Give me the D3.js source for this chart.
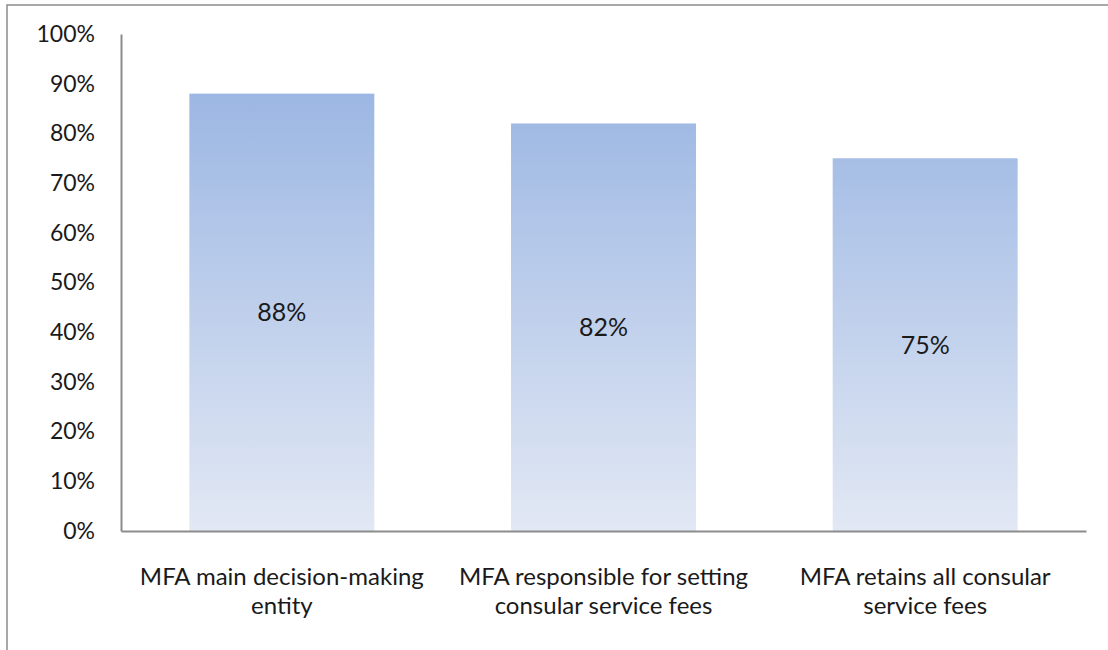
<!DOCTYPE html>
<html>
<head>
<meta charset="utf-8">
<script src="https://cdn.jsdelivr.net/npm/d3@7/dist/d3.min.js"></script>
<style>
  html, body { margin: 0; padding: 0; background: #fff; }
  svg { display: block; }
  text { font-family: Lato, "Open Sans", sans-serif; fill: #1a1a1a; }
</style>
</head>
<body>
<svg id="chart" width="1108" height="650"></svg>
<script>
// Category labels (each entry is split into its two display lines)
const categories = [
  ["MFA main decision-making", "entity"],
  ["MFA responsible for setting", "consular service fees"],
  ["MFA retains all consular", "service fees"]
];
const values = [0.88, 0.82, 0.75];
const yTicks = [0, 0.1, 0.2, 0.3, 0.4, 0.5, 0.6, 0.7, 0.8, 0.9, 1.0];

const svg = d3.select("#chart");
const margin = { left: 121, right: 1086, top: 34, bottom: 531 };

// Chart frame (open on the right/bottom, running off the canvas)
svg.append("rect")
  .attr("x", 7).attr("y", 5)
  .attr("width", 1200).attr("height", 800)
  .attr("fill", "none")
  .attr("stroke", "#8c8c8c")
  .attr("stroke-width", 1.5);

const x = d3.scaleBand()
  .domain(d3.range(categories.length))
  .range([margin.left, margin.right])
  .paddingInner(0.425)
  .paddingOuter(0.2125);

const y = d3.scaleLinear().domain([0, 1]).range([margin.bottom, margin.top]);

// Vertical gradient fill for the bars
const defs = svg.append("defs");
const grad = defs.append("linearGradient")
  .attr("id", "barFill")
  .attr("gradientUnits", "userSpaceOnUse")
  .attr("x1", 0).attr("x2", 0)
  .attr("y1", y(0.88)).attr("y2", y(0));
grad.append("stop").attr("offset", "0%").attr("stop-color", "#9cb7e3");
grad.append("stop").attr("offset", "100%").attr("stop-color", "#e2e8f4");

svg.append("g").selectAll("rect")
  .data(values)
  .join("rect")
  .attr("x", (d, i) => x(i))
  .attr("width", x.bandwidth())
  .attr("y", d => y(d))
  .attr("height", d => y(0) - y(d))
  .attr("fill", "url(#barFill)");

// Y axis
const yAxis = d3.axisLeft(y)
  .tickValues(yTicks)
  .tickFormat(d3.format(".0%"))
  .tickSize(0)
  .tickPadding(26);
const gy = svg.append("g")
  .attr("transform", `translate(${margin.left},0)`)
  .call(yAxis);
gy.select(".domain").attr("stroke", "#8c8c8c").attr("stroke-width", 2);
gy.selectAll("text")
  .style("font-size", "23px")
  .attr("fill", "#1a1a1a")
  .style("font-family", "Lato, 'Open Sans', sans-serif");

// X axis baseline
const xAxis = d3.axisBottom(x).tickSize(0).tickFormat("");
const gx = svg.append("g")
  .attr("transform", `translate(0,${margin.bottom})`)
  .call(xAxis);
gx.select(".domain").attr("stroke", "#8c8c8c").attr("stroke-width", 2);

// Category labels on two lines
const catG = svg.append("g");
categories.forEach((lines, i) => {
  const t = catG.append("text")
    .attr("text-anchor", "middle")
    .style("font-size", "24px");
  lines.forEach((ln, j) => {
    t.append("tspan")
      .attr("x", x(i) + x.bandwidth() / 2)
      .attr("y", 585 + j * 29)
      .text(ln);
  });
});

// Value labels centred inside each bar
svg.append("g").selectAll("text")
  .data(values)
  .join("text")
  .attr("x", (d, i) => x(i) + x.bandwidth() / 2)
  .attr("y", d => (y(d) + y(0)) / 2)
  .attr("dy", "0.36em")
  .attr("text-anchor", "middle")
  .style("font-size", "25px")
  .text(d => d3.format(".0%")(d));
</script>
</body>
</html>
